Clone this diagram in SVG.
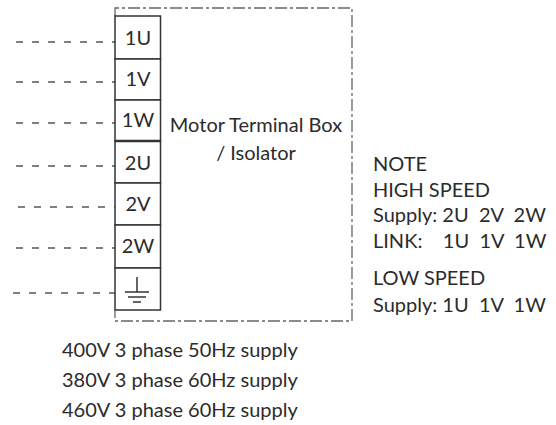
<svg xmlns="http://www.w3.org/2000/svg" width="556" height="425" viewBox="0 0 556 425">
<style>
text{font-family:Lato,"Open Sans",sans-serif;fill:#2b2b2b;font-size:20px}
.lbl{font-size:20px}
.term{fill:#fff;stroke:#333;stroke-width:1.5}
.wire{stroke:#555;stroke-width:1.3;stroke-dasharray:7 9;fill:none}
.box{stroke:#666;stroke-width:1.3;stroke-dasharray:12 3 3 3;fill:none}
.gnd{stroke:#333;stroke-width:1.5}
</style>
<rect width="556" height="425" fill="#fff"/>
<g id="enclosure">
<path class="box" d="M115,16 V8 H352 V321 H115 V310"/>
<text x="256" y="132" text-anchor="middle">Motor Terminal Box</text>
<text x="256" y="160" text-anchor="middle">/ Isolator</text>
</g>
<g id="connectors">
<line class="wire" x1="16" y1="42" x2="115" y2="42"/>
<line class="wire" x1="16" y1="82" x2="115" y2="82"/>
<line class="wire" x1="16" y1="123" x2="115" y2="123"/>
<line class="wire" x1="16" y1="166" x2="115" y2="166"/>
<line class="wire" x1="18" y1="207" x2="115" y2="207"/>
<line class="wire" x1="16" y1="248" x2="115" y2="248"/>
<line class="wire" x1="13" y1="293" x2="115" y2="293"/>
</g>
<g id="t1U"><rect class="term" x="115" y="16" width="45.5" height="43"/><text class="lbl" x="138" y="45" text-anchor="middle">1U</text></g>
<g id="t1V"><rect class="term" x="115" y="59" width="45.5" height="41"/><text class="lbl" x="138" y="86" text-anchor="middle">1V</text></g>
<g id="t1W"><rect class="term" x="115" y="100" width="45.5" height="41"/><text class="lbl" x="138" y="127" text-anchor="middle">1W</text></g>
<g id="t2U"><rect class="term" x="115" y="141" width="45.5" height="42"/><text class="lbl" x="138" y="170" text-anchor="middle">2U</text></g>
<g id="t2V"><rect class="term" x="115" y="183" width="45.5" height="42"/><text class="lbl" x="138" y="211" text-anchor="middle">2V</text></g>
<g id="t2W"><rect class="term" x="115" y="225" width="45.5" height="43"/><text class="lbl" x="138" y="253" text-anchor="middle">2W</text></g>
<line x1="115" y1="141" x2="160.5" y2="141" stroke="#333" stroke-width="2.5"/>
<g id="tPE"><rect class="term" x="115" y="268" width="45.5" height="42"/>
<line class="gnd" x1="137" y1="277" x2="137" y2="292"/>
<line class="gnd" x1="125" y1="292" x2="149" y2="292"/>
<line class="gnd" x1="128" y1="297" x2="146" y2="297"/>
<line class="gnd" x1="133" y1="302" x2="141" y2="302"/>
</g>
<g id="note">
<text x="373" y="171">NOTE</text>
<text x="373" y="197">HIGH SPEED</text>
<text x="373" y="222" xml:space="preserve">Supply: 2U  2V  2W</text>
<text x="373" y="248" xml:space="preserve">LINK:    1U  1V  1W</text>
<text x="373" y="285">LOW SPEED</text>
<text x="373" y="312" xml:space="preserve">Supply: 1U  1V  1W</text>
</g>
<g id="supply">
<text x="62" y="357">400V 3 phase 50Hz supply</text>
<text x="62" y="387">380V 3 phase 60Hz supply</text>
<text x="62" y="417">460V 3 phase 60Hz supply</text>
</g>
</svg>
